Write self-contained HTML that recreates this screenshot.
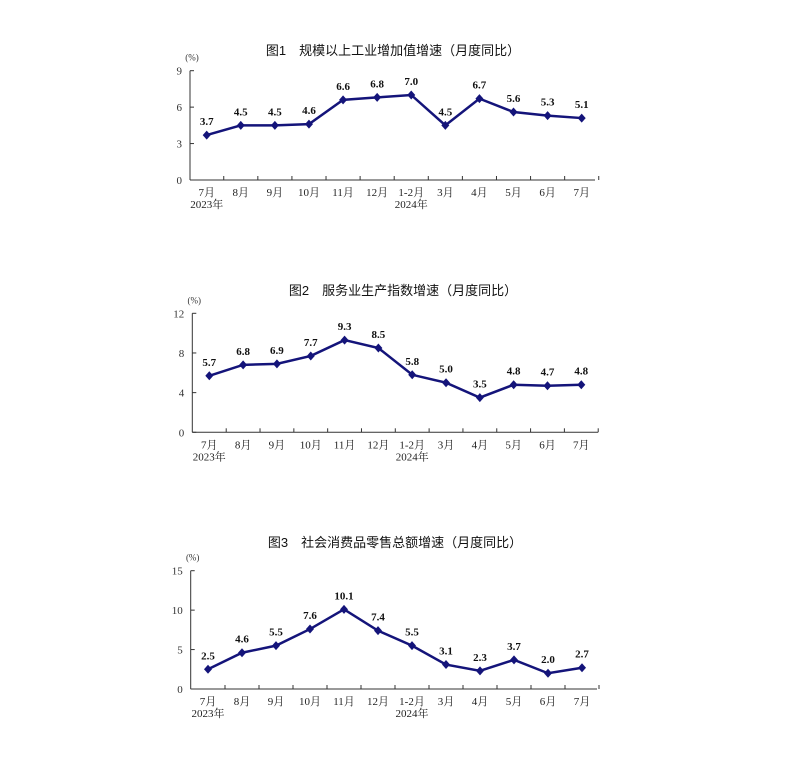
<!DOCTYPE html>
<html><head><meta charset="utf-8"><style>
body{margin:0;background:#fff;width:803px;height:764px;overflow:hidden}
svg{display:block}
text{font-family:"Liberation Serif","Noto Serif CJK SC",serif}
.t{font-family:"Liberation Sans","Noto Sans CJK SC",sans-serif;font-size:13px;fill:#111}
</style></head><body>
<svg id="c" width="803" height="764"></svg>
<script>
const categories=["7月","8月","9月","10月","11月","12月","1-2月","3月","4月","5月","6月","7月"];
const industryValues=[3.7,4.5,4.5,4.6,6.6,6.8,7.0,4.5,6.7,5.6,5.3,5.1];
const serviceValues=[5.7,6.8,6.9,7.7,9.3,8.5,5.8,5.0,3.5,4.8,4.7,4.8];
const retailValues=[2.5,4.6,5.5,7.6,10.1,7.4,5.5,3.1,2.3,3.7,2.0,2.7];
const industryTicks=[0,3,6,9];
const serviceTicks=[0,4,8,12];
const retailTicks=[0,5,10,15];
const titles=["图1　规模以上工业增加值增速（月度同比）","图2　服务业生产指数增速（月度同比）","图3　社会消费品零售总额增速（月度同比）"];
const NS="http://www.w3.org/2000/svg";
const svg=document.getElementById('c');
function mk(tag,attrs,parent,txt){const e=document.createElementNS(NS,tag);for(const k in attrs)e.setAttribute(k,attrs[k]);if(txt!==undefined)e.textContent=txt;parent.appendChild(e);return e;}
function chart(id,title,vals,ticks,L,T,B,R,x0,x1,tx,ty){
  const g=mk('g',{},svg);
  
  
  const max=ticks[ticks.length-1];
  const y=v=>B-(v/max)*(B-T);
  const step=(x1-x0)/(vals.length-1);
  const x=i=>x0+i*step;
  const tt=mk('text',{x:tx,y:ty,'text-anchor':'middle',class:'t'},g,title);
  
  
  const u=mk('text',{x:L+2,y:T-10,'text-anchor':'middle','font-size':9,fill:'#333'},g,'(%)');
  
  
  mk('line',{x1:L,y1:T,x2:L,y2:B,stroke:'#333','stroke-width':1},g);
  mk('line',{x1:L,y1:B,x2:R,y2:B,stroke:'#333','stroke-width':1},g);
  ticks.forEach(t=>{
    mk('line',{x1:L,y1:y(t),x2:L+4,y2:y(t),stroke:'#333'},g);
    const tl=mk('text',{x:L-8,y:y(t)+4,'text-anchor':'end','font-size':11,fill:'#333'},g,t);
    
    
  });
  for(let i=0;i<=vals.length;i++){const bx=x0-step/2+i*step;if(i>0)mk('line',{x1:bx,y1:B,x2:bx,y2:B-4,stroke:'#333'},g);}
  categories.forEach((c,i)=>{
    const cl=mk('text',{x:x(i),y:B+16,'text-anchor':'middle','font-size':11,fill:'#222'},g,c);
    
    
  });
  const y1=mk('text',{x:x(0),y:B+28,'text-anchor':'middle','font-size':11,fill:'#222'},g,'2023年');
  
  
  const y2=mk('text',{x:x(6),y:B+28,'text-anchor':'middle','font-size':11,fill:'#222'},g,'2024年');
  
  
  const ln=mk('polyline',{points:vals.map((v,i)=>x(i)+','+y(v)).join(' '),fill:'none',stroke:'#14147a','stroke-width':2.5},g);
  
  
  vals.forEach((v,i)=>{
    const px=x(i),py=y(v);
    const p=mk('polygon',{points:`${px},${py-4.5} ${px+4},${py} ${px},${py+4.5} ${px-4},${py}`,fill:'#14147a'},g);
    
    
    const l=mk('text',{x:px,y:py-10,'text-anchor':'middle','font-size':11,'font-weight':'bold',fill:'#111'},g,v.toFixed(1));
    
    
  });
}
chart('industry-chart',titles[0],industryValues,industryTicks,190,70.7,180,595,206.7,581.7,393,55);
chart('service-chart',titles[1],serviceValues,serviceTicks,192.3,313.3,432.3,598,209.3,581.3,403,295);
chart('retail-chart',titles[2],retailValues,retailTicks,190.7,570.7,689,597,208,582,395,547);
</script>
</body></html>
